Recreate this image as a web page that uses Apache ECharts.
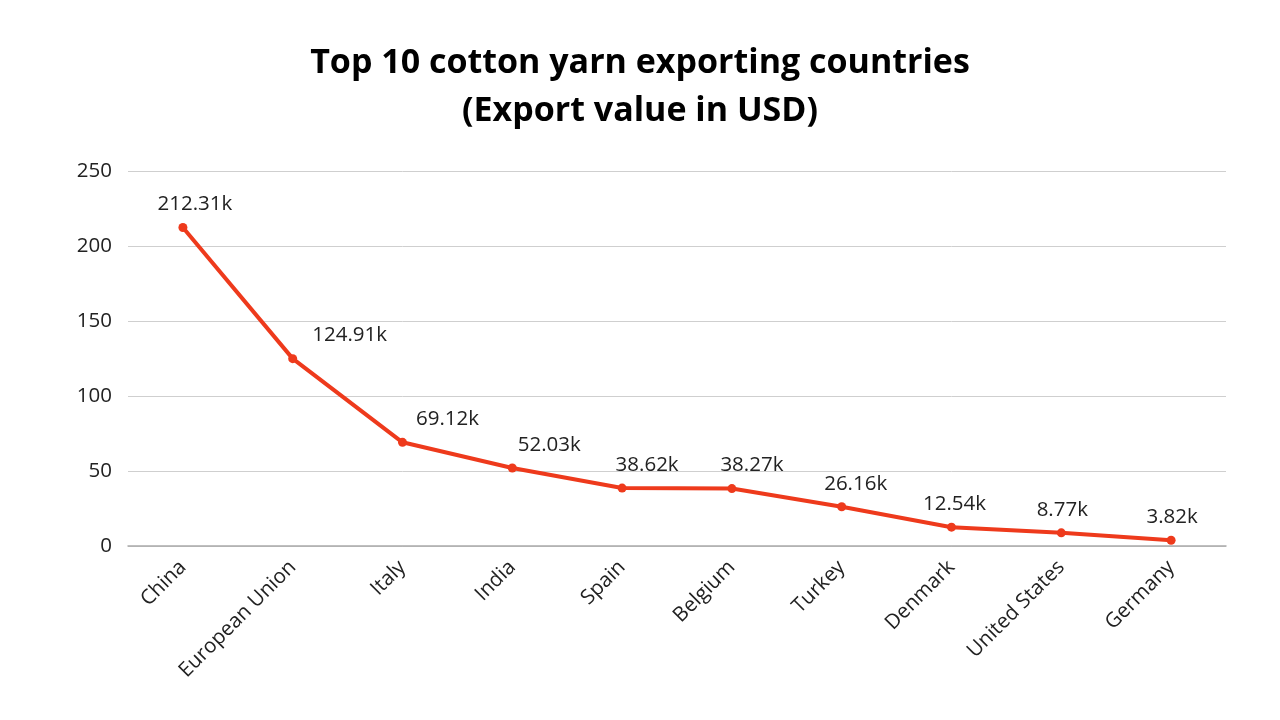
<!DOCTYPE html>
<html>
<head>
<meta charset="utf-8">
<script src="https://cdn.jsdelivr.net/npm/echarts@6/dist/echarts.min.js"></script>
<style>html,body{margin:0;padding:0;background:#fff}#c{width:1280px;height:720px}</style>
</head>
<body>
<div id="c"></div>
<script>
const categories = ["China", "European Union", "Italy", "India", "Spain", "Belgium", "Turkey", "Denmark", "United States", "Germany"];
const exportValues = [212.31, 124.91, 69.12, 52.03, 38.62, 38.27, 26.16, 12.54, 8.77, 3.82];
const yTicks = [0, 50, 100, 150, 200, 250];
const labelShiftX = [12, 57, 45, 37, 25, 20, 14, 3, 1, 1];

const chart = echarts.init(document.getElementById('c'));
chart.setOption({
  backgroundColor: '#fff',
  animation: false,
  title: {
    text: 'Top 10 cotton yarn exporting countries\n(Export value in USD)',
    left: 'center',
    top: 34,
    textStyle: { fontFamily: 'Open Sans', fontWeight: 'bold', fontSize: 34, lineHeight: 48, color: '#000' }
  },
  grid: { left: 128, right: 54, top: 171, bottom: 174 },
  xAxis: {
    type: 'category',
    data: categories,
    boundaryGap: true,
    axisLine: { show: true, lineStyle: { color: '#aaa', width: 1.5 } },
    axisTick: { show: false },
    axisLabel: { rotate: 45, fontFamily: 'Open Sans', fontSize: 20.5, color: '#222', margin: 18, interval: 0 }
  },
  yAxis: {
    type: 'value',
    min: yTicks[0],
    max: yTicks[yTicks.length - 1],
    interval: 50,
    axisLine: { show: false },
    axisTick: { show: false },
    splitLine: { lineStyle: { color: '#cfcfcf', width: 1 } },
    axisLabel: { fontFamily: 'Open Sans', fontSize: 20.5, color: '#222', margin: 16 }
  },
  series: [{
    type: 'line',
    data: exportValues.map((v, i) => ({
      value: v,
      label: { offset: [labelShiftX[i], 0] }
    })),
    lineStyle: { color: '#EE3A1C', width: 4 },
    itemStyle: { color: '#EE3A1C' },
    symbol: 'circle',
    symbolSize: 9,
    label: {
      show: true,
      position: 'top',
      distance: 8,
      fontFamily: 'Open Sans',
      fontSize: 20.5,
      color: '#222',
      formatter: p => p.value.toFixed(2) + 'k'
    }
  }]
});
</script>
</body>
</html>
